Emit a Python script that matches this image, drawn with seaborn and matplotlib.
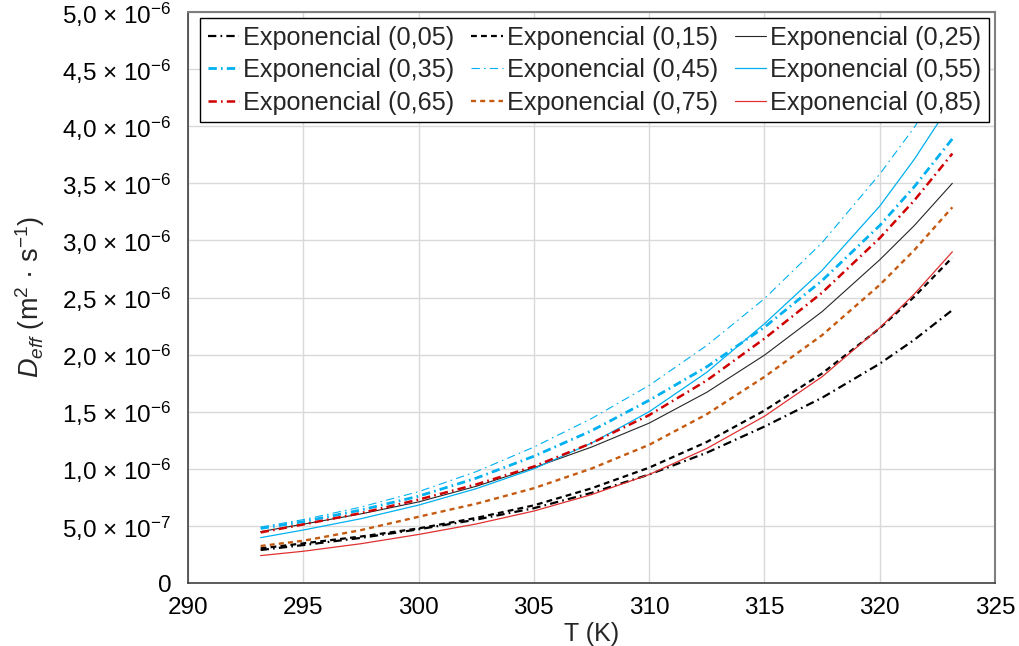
import numpy as np
import pandas as pd
import matplotlib
matplotlib.use("Agg")
import matplotlib.pyplot as plt
import seaborn as sns

# Temperature grid (K)
temperature = [293.15, 295.0, 297.5, 300.0, 302.5, 305.0, 307.5, 310.0,
               312.5, 315.0, 317.5, 320.0, 321.5, 323.15]

# Effective diffusivity, in units of 1e-6 m2/s, one list per exponent
d_005 = [0.289, 0.332, 0.395, 0.470, 0.555, 0.655, 0.789, 0.950, 1.141, 1.370, 1.622, 1.920, 2.130, 2.390]
d_015 = [0.303, 0.347, 0.407, 0.478, 0.570, 0.680, 0.829, 1.010, 1.235, 1.510, 1.835, 2.230, 2.507, 2.850]
d_025 = [0.450, 0.515, 0.605, 0.710, 0.847, 1.010, 1.190, 1.400, 1.670, 1.995, 2.376, 2.830, 3.130, 3.500]
d_035 = [0.478, 0.537, 0.639, 0.760, 0.918, 1.110, 1.333, 1.600, 1.893, 2.240, 2.648, 3.130, 3.470, 3.890]
d_045 = [0.490, 0.555, 0.665, 0.800, 0.975, 1.190, 1.440, 1.730, 2.080, 2.490, 2.980, 3.580, 3.990, 4.500]
d_055 = [0.397, 0.464, 0.563, 0.682, 0.826, 1.000, 1.225, 1.500, 1.845, 2.270, 2.737, 3.300, 3.710, 4.220]
d_065 = [0.443, 0.513, 0.612, 0.730, 0.863, 1.020, 1.225, 1.470, 1.774, 2.140, 2.542, 3.020, 3.350, 3.760]
d_075 = [0.324, 0.370, 0.463, 0.580, 0.694, 0.830, 1.002, 1.210, 1.478, 1.805, 2.170, 2.610, 2.915, 3.290]
d_085 = [0.240, 0.278, 0.344, 0.425, 0.517, 0.630, 0.774, 0.950, 1.178, 1.460, 1.806, 2.235, 2.530, 2.900]

labels = ["Exponencial (0,05)", "Exponencial (0,15)", "Exponencial (0,25)",
          "Exponencial (0,35)", "Exponencial (0,45)", "Exponencial (0,55)",
          "Exponencial (0,65)", "Exponencial (0,75)", "Exponencial (0,85)"]
series = [d_005, d_015, d_025, d_035, d_045, d_055, d_065, d_075, d_085]

x_ticks = [290, 295, 300, 305, 310, 315, 320, 325]
y_ticks = [0, 0.5e-6, 1.0e-6, 1.5e-6, 2.0e-6, 2.5e-6, 3.0e-6, 3.5e-6, 4.0e-6, 4.5e-6, 5.0e-6]
y_tick_labels = ["0", "5,0 × 10$^{-7}$", "1,0 × 10$^{-6}$", "1,5 × 10$^{-6}$",
                 "2,0 × 10$^{-6}$", "2,5 × 10$^{-6}$", "3,0 × 10$^{-6}$",
                 "3,5 × 10$^{-6}$", "4,0 × 10$^{-6}$", "4,5 × 10$^{-6}$",
                 "5,0 × 10$^{-6}$"]

# Line appearance per series
cyan = "#00B0F0"
dashdot = (0, (6, 3, 1.2, 3))
styles = [
    dict(color="black", lw=1.6, ls=dashdot),
    dict(color="black", lw=1.6, ls=(0, (4.2, 3))),
    dict(color="#262626", lw=0.8, ls="-"),
    dict(color=cyan, lw=2.0, ls=dashdot),
    dict(color=cyan, lw=0.8, ls=dashdot),
    dict(color=cyan, lw=0.9, ls="-"),
    dict(color="#D00000", lw=1.8, ls=dashdot),
    dict(color="#C55A11", lw=1.7, ls=(0, (3.6, 3))),
    dict(color="#E03030", lw=0.9, ls="-"),
]

sns.set_style("whitegrid", {"grid.color": "#D9D9D9"})
plt.rcParams["font.family"] = ["Liberation Sans", "DejaVu Sans"]
plt.rcParams["mathtext.fontset"] = "custom"
plt.rcParams["mathtext.rm"] = "Liberation Sans"
plt.rcParams["mathtext.it"] = "Liberation Sans:italic"
plt.rcParams["lines.scale_dashes"] = False

frames = []
for lab, vals in zip(labels, series):
    frames.append(pd.DataFrame({"T": temperature,
                                "D": np.array(vals) * 1e-6,
                                "serie": lab}))
df = pd.concat(frames, ignore_index=True)

fig = plt.figure(figsize=(10.19, 6.46), dpi=100)
ax = fig.add_axes([188 / 1019, 1 - 583 / 646, (995 - 188) / 1019, (583 - 12) / 646])

handles = []
for lab, st in zip(labels, styles):
    sub = df[df["serie"] == lab]
    sns.lineplot(data=sub, x="T", y="D", ax=ax, color=st["color"],
                 linewidth=st["lw"], linestyle=st["ls"], label=lab,
                 legend=False)
    handles.append(ax.lines[-1])

ax.set_xlim(290, 325)
ax.set_ylim(0, 5e-6)
ax.set_xticks(x_ticks)
ax.set_xticklabels([str(v) for v in x_ticks])
ax.set_yticks(y_ticks)
ax.set_yticklabels(y_tick_labels)
ax.tick_params(axis="both", labelsize=17.5, colors="black")
ax.tick_params(axis="x", direction="out", length=6, width=1, color="#404040", pad=4)
ax.tick_params(axis="y", direction="out", length=5, width=1, color="#404040", pad=7)
ax.grid(True, color="#D9D9D9", linewidth=1)

for side in ["left", "bottom"]:
    ax.spines[side].set_color("#404040")
    ax.spines[side].set_linewidth(1.2)
for side in ["top", "right"]:
    ax.spines[side].set_color("#7F7F7F")
    ax.spines[side].set_linewidth(1.5)

ax.set_xlabel("T (K)", fontsize=18, labelpad=2)
ax.set_ylabel("$D_{eff}$ (m$^{2}$ · s$^{-1}$)", fontsize=19.5, labelpad=11)

# Legend laid out row by row in three columns
order = [0, 3, 6, 1, 4, 7, 2, 5, 8]
leg = ax.legend([handles[i] for i in order], [labels[i] for i in order],
                ncol=3, loc="upper left",
                bbox_to_anchor=(200 / 1019, 1 - 18 / 646),
                bbox_transform=fig.transFigure, borderaxespad=0,
                fontsize=18.2, frameon=True, fancybox=False,
                handlelength=1.25, handletextpad=0.15, columnspacing=0.67,
                labelspacing=0.34, borderpad=0.3)
leg.get_frame().set_edgecolor("black")
leg.get_frame().set_linewidth(1.0)
leg.get_frame().set_alpha(1)

fig.savefig("out.png", dpi=100)
